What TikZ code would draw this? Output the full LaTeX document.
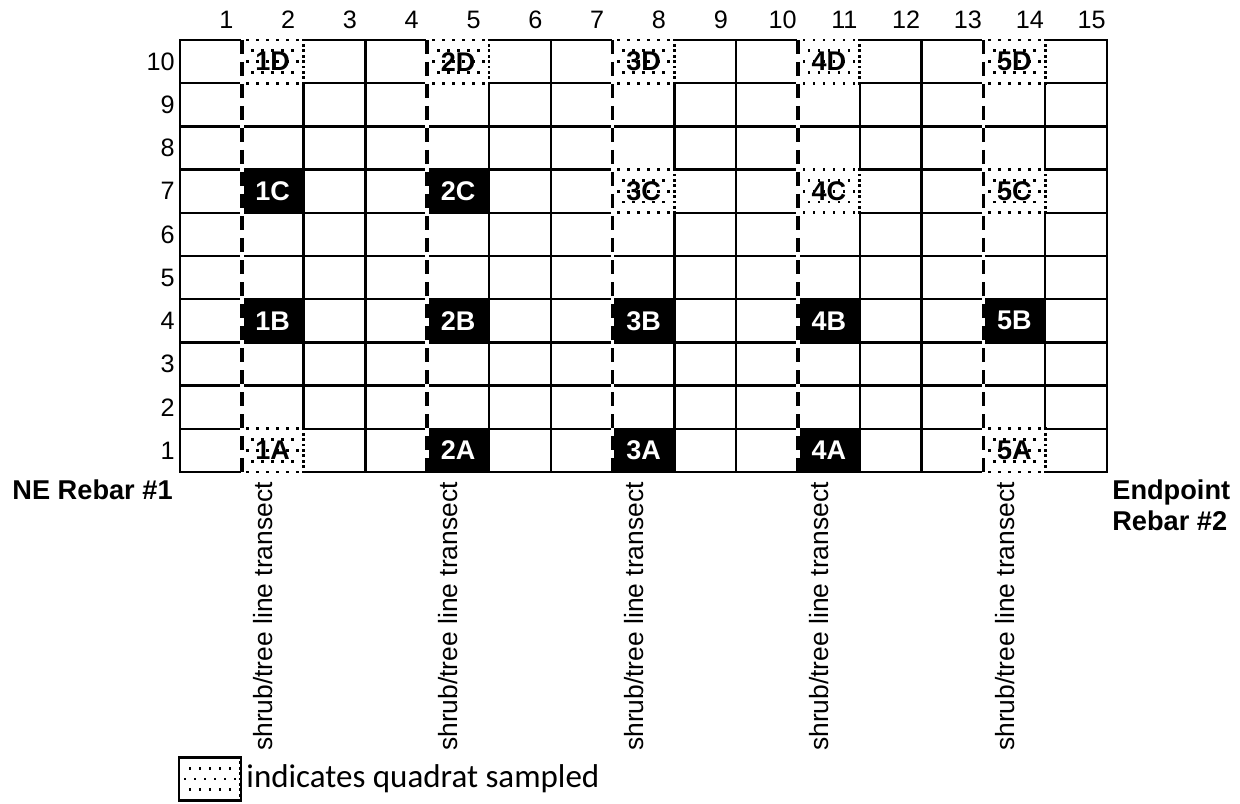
\documentclass[tikz,border=0pt]{standalone}
\usepackage{fontspec}
\setmainfont{Liberation Sans}
\newfontfamily\legendfont{Carlito}
\usepackage{tikz}
\usetikzlibrary{positioning}

\tikzset{
  % stippled fill of a sampled quadrat
  pics/dotfill/.style={code={
    \fill[white] (-16pt,-11.4pt) rectangle (16pt,11.4pt);
    \foreach \dy in {-10.8,0,10.8}
      \foreach \dx in {-12.5,-7.5,...,12.5}
        \fill (\dx pt,\dy pt) +(-0.7pt,-0.7pt) rectangle +(0.7pt,0.7pt);
    \foreach \dy in {-5.4,5.4}
      \foreach \dx in {-10,-5,...,10}
        \fill (\dx pt,\dy pt) +(-0.7pt,-0.7pt) rectangle +(0.7pt,0.7pt);
    \foreach \dy in {-10.8,-8.1,...,10.9}
      \fill (15.45pt,\dy pt) +(-0.7pt,-0.7pt) rectangle +(0.7pt,0.7pt);
  }},
}

\begin{document}
\begin{tikzpicture}[
  x=30.9pt, y=21.6pt,
  gridline/.style={line width=1.15pt},
  transect/.style={line width=1.8pt, dash pattern=on 7pt off 4pt},
  cellbox/.style={minimum width=30.9pt, minimum height=21.6pt, inner sep=0pt,
                  font=\fontsize{13.5}{16}\selectfont\bfseries},
  solidq/.style={cellbox, fill=black, text=white},
  dottedq/.style={cellbox},
  ticklabel/.style={font=\fontsize{12.6}{15}\selectfont, inner sep=0pt},
  translabel/.style={font=\fontsize{13.2}{16}\selectfont, rotate=90, inner sep=0pt},
  rebar/.style={font=\fontsize{13.6}{15.5}\selectfont\bfseries, align=left, inner sep=0pt},
]
\useasboundingbox (-2.9126,-7.662) rectangle (17.152,10.926);

% grid of quadrats
\foreach \i in {1,...,14}
  \draw[gridline] (\i,0) -- (\i,10);
\foreach \j in {1,...,9}
  \draw[gridline] (0,\j) -- (15,\j);
\draw[gridline] (0,0) rectangle (15,10);

% sampled quadrats
\foreach \q/\cx/\cy in {1D/1.5/9.5, 1A/1.5/0.5, 2D/4.5/9.5, 3D/7.5/9.5, 3C/7.5/6.5,
                        4D/10.5/9.5, 4C/10.5/6.5, 5D/13.5/9.5, 5C/13.5/6.5, 5A/13.5/0.5} {
  \pic at (\cx,\cy) {dotfill};
  \node[dottedq] (q\q) at (\cx,\cy) {\q};
}
\foreach \q/\cx/\cy in {1C/1.5/6.5, 1B/1.5/3.5, 2C/4.5/6.5, 2B/4.5/3.5, 2A/4.5/0.5,
                        3B/7.5/3.5, 3A/7.5/0.5, 4B/10.5/3.5, 4A/10.5/0.5, 5B/13.5/3.5}
  \node[solidq] (q\q) at (\cx,\cy) {\q};

% transects
\foreach \k/\tx in {1/1, 2/4, 3/7, 4/10, 5/13} {
  \coordinate (top\k) at (\tx,10);
  \coordinate (bot\k) at (\tx,0);
  \draw[white, line width=1.8pt] (top\k) -- (bot\k);
  \draw[transect] (top\k) -- (bot\k);
  \node[translabel] (tlabel\k) at ({\tx+0.343},-3.345) {shrub/tree line transect};
}

% axis numbers
\foreach \i in {1,...,15}
  \node[ticklabel] (col\i) at ({\i-0.25},10.475) {\i};
\foreach \j in {1,...,10}
  \node[ticklabel, anchor=east] (row\j) at (-0.08,{\j-0.5}) {\j};

\node[rebar, anchor=base west] (nerebar) at (-2.718,-0.648) {NE Rebar \#1};
\node[rebar, anchor=north west] (endrebar) at (15.08,-0.162) {Endpoint\\Rebar \#2};

% legend
\pic at (0.485,-7.106) {dotfill};
\node[cellbox, draw, line width=1.2pt] (legendbox) at (0.485,-7.106) {};
\node[right=0pt of legendbox, inner sep=2pt, font=\legendfont\fontsize{16.5}{20}\selectfont]
  (legendtext) {indicates quadrat sampled};

\end{tikzpicture}
\end{document}
